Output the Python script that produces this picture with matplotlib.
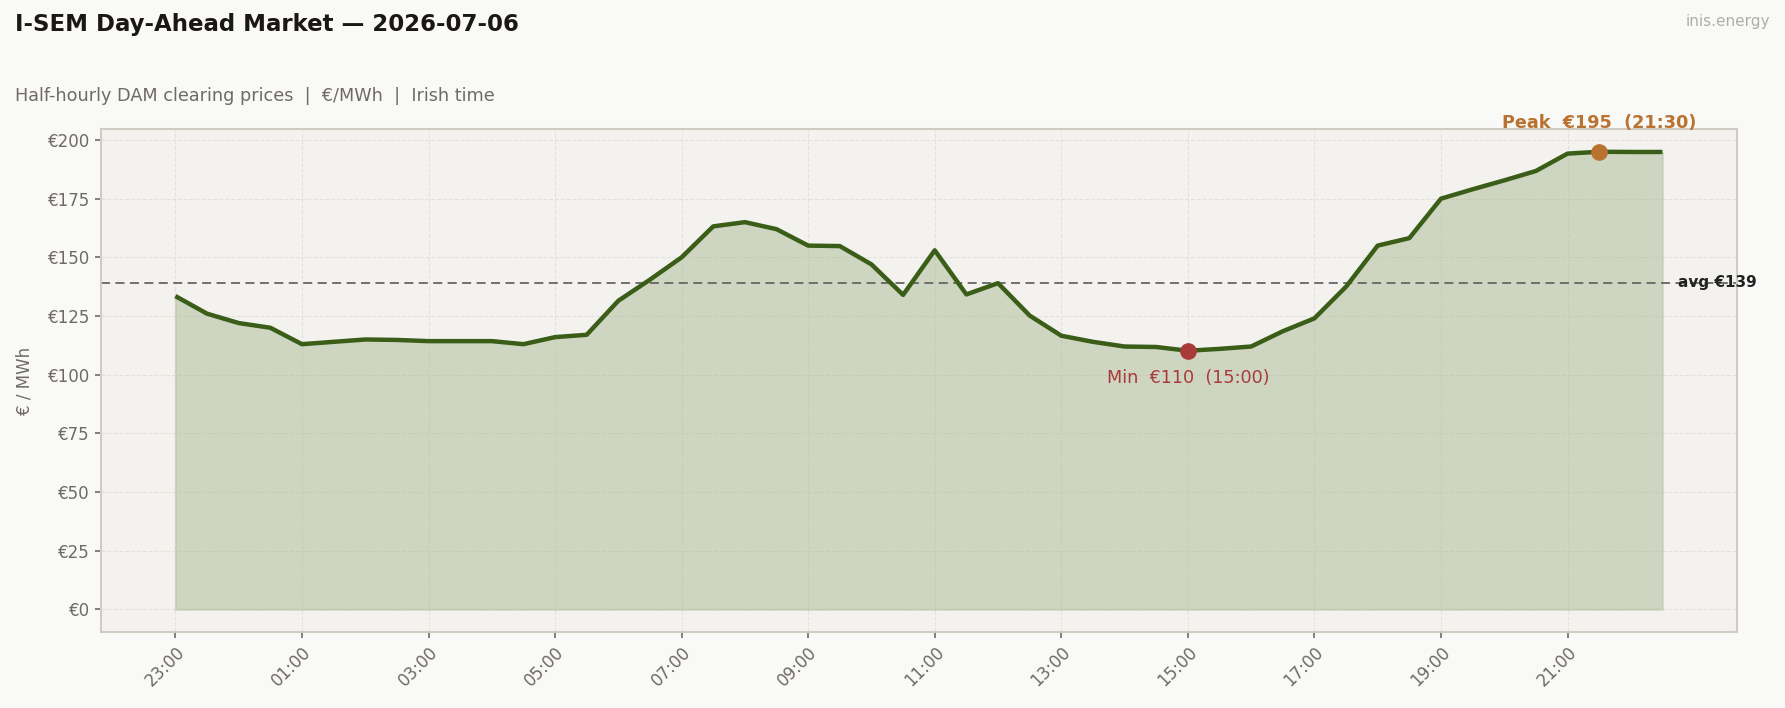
import numpy as np
import matplotlib
matplotlib.use("Agg")
import matplotlib.pyplot as plt

# half-hourly slots, Irish time (23:00 of previous day to 22:30)
times = ["23:00", "23:30", "00:00", "00:30", "01:00", "01:30", "02:00", "02:30",
         "03:00", "03:30", "04:00", "04:30", "05:00", "05:30", "06:00", "06:30",
         "07:00", "07:30", "08:00", "08:30", "09:00", "09:30", "10:00", "10:30",
         "11:00", "11:30", "12:00", "12:30", "13:00", "13:30", "14:00", "14:30",
         "15:00", "15:30", "16:00", "16:30", "17:00", "17:30", "18:00", "18:30",
         "19:00", "19:30", "20:00", "20:30", "21:00", "21:30", "22:00", "22:30"]

prices = [133.5, 126.0, 122.0, 120.0, 113.0, 114.0, 115.0, 114.8,
          114.3, 114.3, 114.3, 113.0, 116.0, 117.0, 131.5, 140.5,
          150.0, 163.2, 165.0, 162.0, 155.0, 154.8, 147.0, 134.0,
          153.0, 134.2, 139.0, 125.2, 116.6, 114.0, 112.0, 111.8,
          110.2, 111.0, 112.0, 118.5, 124.0, 137.5, 155.0, 158.2,
          175.0, 179.0, 182.8, 186.8, 194.2, 195.0, 194.9, 194.9]

y_ticks = [0, 25, 50, 75, 100, 125, 150, 175, 200]

GREEN = "#3a5e17"
RED = "#a83a3a"
ORANGE = "#ba7230"
GREY = "#6f6a66"

x = np.arange(len(prices))
p = np.array(prices)
avg = p.mean()
i_min = int(p.argmin())
i_max = int(p.argmax())

fig = plt.figure(figsize=(17.85, 7.08), dpi=100, facecolor="#f9f9f7")
ax = fig.add_axes([0.0566, 0.107, 0.9164, 0.711])
ax.set_facecolor("#f3f2ef")

ax.fill_between(x, 0, p, color="#a3b58c", alpha=0.45, edgecolor="#b5c0a5", linewidth=1.5)
ax.plot(x, p, color=GREEN, lw=3.2, solid_capstyle="butt", zorder=3)

ax.axhline(avg, color="#666666", ls="--", lw=1.3, dashes=(5, 3), zorder=2)
ax.text(x[-1] + 0.5, avg, f"avg €{avg:.0f}", fontsize=11, fontweight="bold",
        color="#222222", va="center", ha="left")

ax.plot(x[i_min], p[i_min], "o", color=RED, ms=11, zorder=4)
ax.annotate(f"Min  €{p[i_min]:.0f}  ({times[i_min]})", (x[i_min], p[i_min]),
            xytext=(0, -13), textcoords="offset points", ha="center", va="top",
            color=RED, fontsize=12.7)

ax.plot(x[i_max], p[i_max], "o", color=ORANGE, ms=11, zorder=4)
ax.annotate(f"Peak  €{p[i_max]:.0f}  ({times[i_max]})", (x[i_max], p[i_max]),
            xytext=(0, 14), textcoords="offset points", ha="center", va="bottom",
            color=ORANGE, fontsize=12.7, fontweight="bold")

ax.set_xticks(x[::4])
ax.set_xticklabels(times[::4], rotation=45, ha="right", rotation_mode="anchor")
ax.set_yticks(y_ticks)
ax.set_yticklabels([f"€{v}" for v in y_ticks])
ax.tick_params(colors=GREY, labelsize=12, length=4.5, width=1.2)
ax.set_ylabel("€ / MWh", color=GREY, fontsize=12, labelpad=10)

ax.grid(True, color="#e0ddd8", ls="--", lw=0.8, alpha=0.8)
ax.set_axisbelow(True)
for s in ax.spines.values():
    s.set_color("#d0ccc4")
    s.set_linewidth(1.5)

fig.text(0.0084, 0.965, "I-SEM Day-Ahead Market — 2026-07-06", fontsize=16.5,
         fontweight="bold", color="#1a1714", va="center")
fig.text(0.0084, 0.865, "Half-hourly DAM clearing prices  |  €/MWh  |  Irish time",
         fontsize=12.7, color=GREY, va="center")
fig.text(0.9916, 0.969, "inis.energy", fontsize=11, color="#b0aeab",
         va="center", ha="right")

fig.savefig("out.png", dpi=100, facecolor=fig.get_facecolor())
